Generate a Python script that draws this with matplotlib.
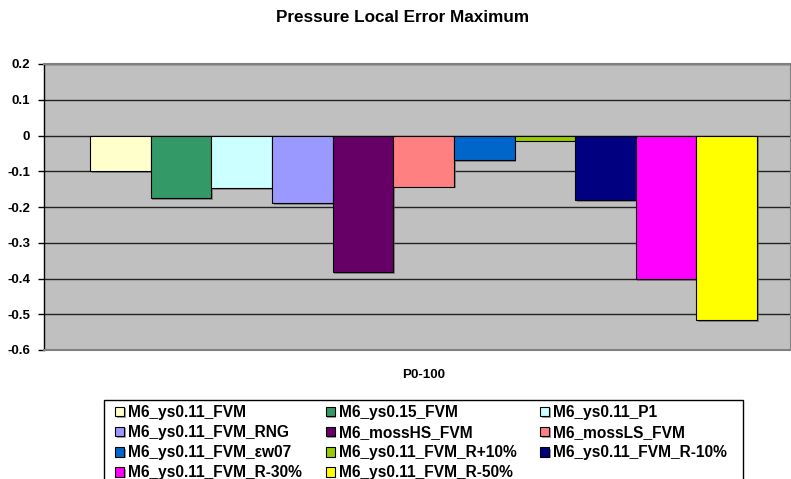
import numpy as np
import matplotlib
matplotlib.use("Agg")
import matplotlib.pyplot as plt
import matplotlib.patheffects as pe
from matplotlib.patches import Rectangle

plt.rcParams['font.family'] = ['Liberation Sans', 'DejaVu Sans']
plt.rcParams['font.weight'] = 'bold'

# series names and the single value each one has at P0-100
series_names = ["M6_ys0.11_FVM", "M6_ys0.15_FVM", "M6_ys0.11_P1",
                "M6_ys0.11_FVM_RNG", "M6_mossHS_FVM", "M6_mossLS_FVM",
                "M6_ys0.11_FVM_\u03b5w07", "M6_ys0.11_FVM_R+10%", "M6_ys0.11_FVM_R-10%",
                "M6_ys0.11_FVM_R-30%", "M6_ys0.11_FVM_R-50%"]
values = [-0.100, -0.175, -0.148, -0.189, -0.382, -0.143,
          -0.069, -0.014, -0.181, -0.401, -0.516]
colors = ["#FFFFCC", "#339966", "#CCFFFF", "#9999FF", "#660066", "#FF8080",
          "#0066CC", "#99CC00", "#000080", "#FF00FF", "#FFFF00"]
category = "P0-100"
yticks = [0.2, 0.1, 0, -0.1, -0.2, -0.3, -0.4, -0.5, -0.6]

W, H = 791, 479
fig = plt.figure(figsize=(W/100, H/100), dpi=100)
ax = fig.add_axes([44/W, 1 - 350/H, 747/W, 286/H])
ax.set_facecolor("#C0C0C0")

x = np.arange(len(values))
shadow = [pe.SimplePatchShadow(offset=(1.2, -1.2), shadow_rgbFace="#606060", alpha=0.6), pe.Normal()]
handles = []
for xi, v, c, name in zip(x, values, colors, series_names):
    b = ax.bar(xi, v, width=1.0, color=c, edgecolor="black", linewidth=0.8, zorder=3, label=name)
    b.patches[0].set_path_effects(shadow)
    handles.append(b)

ax.set_xlim(-1.26, 11.06)
ax.set_ylim(-0.6, 0.2)
ax.set_yticks(yticks)
ax.set_yticklabels([f"{t:g}" for t in yticks], fontsize=9.5, fontweight='bold')
ax.yaxis.grid(True, color="#222222", linewidth=1.0, zorder=1)
ax.set_axisbelow(True)
ax.tick_params(axis='y', direction='out', length=4, width=1, pad=6)
ax.tick_params(axis='x', length=0)
ax.set_xticks([])

for s in ["top", "bottom", "right"]:
    ax.spines[s].set_color("#808080")
    ax.spines[s].set_linewidth(1.5)
ax.spines["left"].set_color("black")
ax.spines["left"].set_linewidth(1.0)

fig.text(424/W, 1 - 375/H, category, ha='center', va='center', fontsize=9.7, fontweight='bold')
fig.text(403/W, 1 - 18/H, "Pressure Local Error Maximum", ha='center', va='center',
         fontsize=12.3, fontweight='bold')

# legend frame, drawn by hand so the padding matches Excel
fig.patches.append(Rectangle((104/W, -0.05), (743 - 104)/W, (1 - 400/H) + 0.05,
                             transform=fig.transFigure, facecolor="white",
                             edgecolor="black", linewidth=1.0, zorder=0))

# Excel fills the legend row by row, matplotlib column by column
order = [0, 3, 6, 9, 1, 4, 7, 10, 2, 5, 8]
leg = fig.legend([handles[i] for i in order], [series_names[i] for i in order],
                 ncol=3, loc='upper left', bbox_to_anchor=(115/W, 1 - 405/H),
                 prop={'size': 11.2, 'weight': 'bold'}, frameon=False,
                 handlelength=0.58, handleheight=0.58,
                 handletextpad=0.28, columnspacing=1.5, labelspacing=0.33,
                 borderpad=0, borderaxespad=0)

fig.savefig("out.png", dpi=100)
